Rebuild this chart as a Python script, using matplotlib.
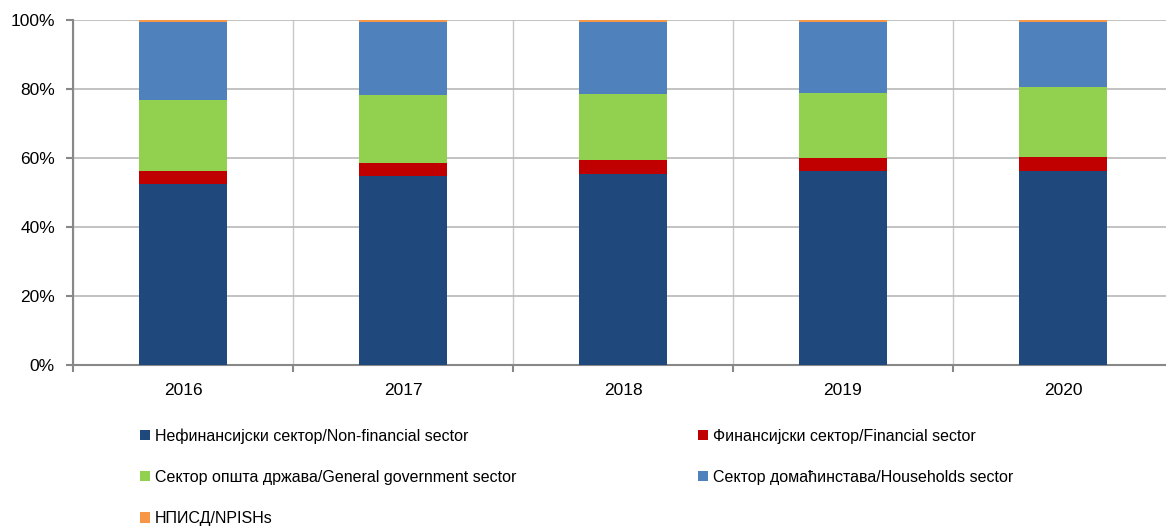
import matplotlib.pyplot as plt
from matplotlib.ticker import FixedLocator, PercentFormatter
import numpy as np

plt.rcParams['font.family'] = ['Liberation Sans', 'DejaVu Sans']

years = ['2016', '2017', '2018', '2019', '2020']

# shares in %
nonfin = [52.6, 54.7, 55.5, 56.1, 56.3]
fin = [3.5, 3.8, 4.0, 3.8, 4.0]
gov = [20.8, 19.7, 19.0, 18.9, 20.2]
hh = [22.5, 21.2, 21.0, 20.7, 19.0]
npish = [0.6, 0.6, 0.5, 0.5, 0.5]

labels = ['Нефинансијски сектор/Non-financial sector',
          'Финансијски сектор/Financial sector',
          'Сектор општа држава/General government sector',
          'Сектор домаћинстава/Households sector',
          'НПИСД/NPISHs']
colors = ['#1F497D', '#C00000', '#92D050', '#4F81BD', '#F79646']

fig = plt.figure(figsize=(11.66, 5.27), dpi=100)
ax = fig.add_axes([73 / 1166, 1 - 365 / 527, 1100 / 1166, 345 / 527])

x = np.arange(len(years))
bottom = np.zeros(len(years))
bars = []
for vals, lab, col in zip([nonfin, fin, gov, hh, npish], labels, colors):
    b = ax.bar(x, vals, 0.4, bottom=bottom, color=col, label=lab, zorder=3)
    bars.append(b)
    bottom += np.array(vals)

ax.set_xlim(-0.5, len(years) - 0.5)
ax.set_ylim(0, 100)
ax.set_yticks(np.arange(0, 101, 20))
ax.yaxis.set_major_formatter(PercentFormatter(decimals=0))
ax.set_xticks(x)
ax.set_xticklabels(years)
ax.xaxis.set_minor_locator(FixedLocator(np.arange(-0.5, len(years), 1.0)))

ax.grid(axis='y', color='#b8b8b8', lw=1.2, zorder=0)
ax.grid(axis='x', which='minor', color='#c8c8c8', lw=1.0, zorder=0)

for s in ['top', 'right']:
    ax.spines[s].set_visible(False)
for s in ['left', 'bottom']:
    ax.spines[s].set_color('#888888')
    ax.spines[s].set_linewidth(1.5)

ax.tick_params(axis='x', which='major', length=0, labelsize=12.5, pad=13)
ax.tick_params(axis='x', which='minor', length=5, width=1.5, color='#888888')
ax.tick_params(axis='y', length=5, width=1.5, color='#888888', labelsize=12.5, pad=8)

# legend: two columns, row-wise order
order = [0, 2, 4, 1, 3]
fig.legend([bars[i] for i in order], [labels[i] for i in order],
           ncol=2, loc='upper left', bbox_to_anchor=(140 / 1166, 1 - 428 / 527),
           frameon=False, fontsize=11.5, handlelength=0.63, handleheight=0.63,
           handletextpad=0.3, labelspacing=1.65, columnspacing=11.4,
           borderaxespad=0, borderpad=0)

fig.savefig('out.png', dpi=100)
